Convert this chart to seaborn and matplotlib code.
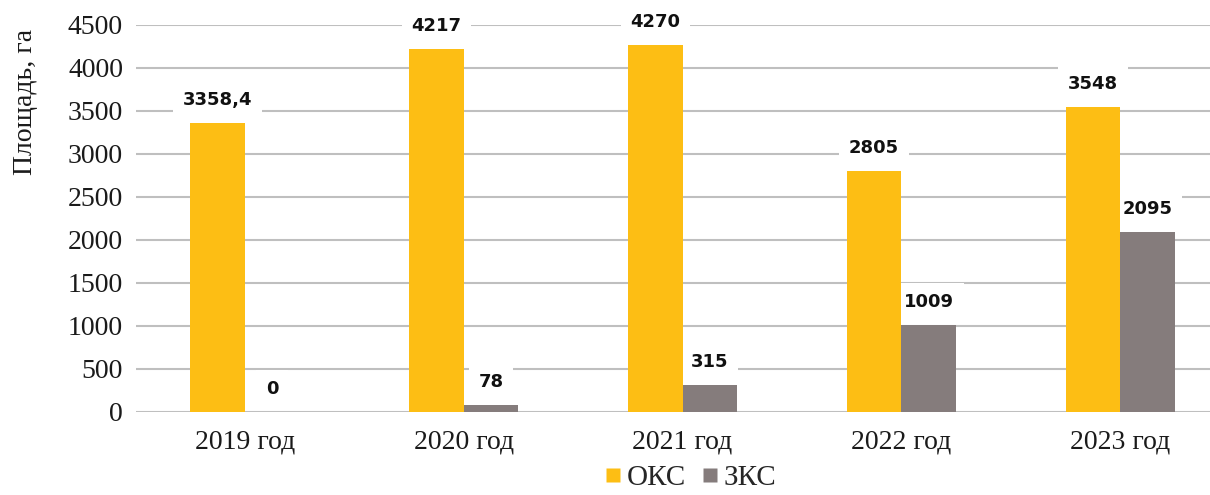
import matplotlib
matplotlib.use("Agg")
import matplotlib.pyplot as plt
from matplotlib.lines import Line2D
import seaborn as sns
import pandas as pd

years = ["2019 год", "2020 год", "2021 год", "2022 год", "2023 год"]
series = ["ОКС", "ЗКС"]
oks = [3358.4, 4217, 4270, 2805, 3548]
zks = [0, 78, 315, 1009, 2095]
yticks = [0, 500, 1000, 1500, 2000, 2500, 3000, 3500, 4000, 4500]
colors = {"ОКС": "#FDBE14", "ЗКС": "#857C7C"}

df = pd.DataFrame({
    "year": years * 2,
    "series": [series[0]] * len(years) + [series[1]] * len(years),
    "value": oks + zks,
})

sns.set_theme(style="white")
serif = ["Liberation Serif", "DejaVu Serif"]

fig = plt.figure(figsize=(12.1, 4.95), dpi=100)
ax = fig.add_axes([0.112, 0.168, 0.888, 0.782])

sns.barplot(data=df, x="year", y="value", hue="series", order=years,
            hue_order=series, palette=colors, width=0.5, saturation=1,
            linewidth=0, ax=ax, legend=False, errorbar=None)
for p in ax.patches:
    p.set_zorder(2)

ax.set_xlim(-0.5, 4.41)
ax.set_ylim(0, 4500)
ax.set_yticks(yticks)
ax.set_yticklabels([str(t) for t in yticks], fontfamily=serif, fontsize=20)
ax.set_xticks(range(len(years)))
ax.set_xticklabels(years, fontfamily=serif, fontsize=20)
ax.tick_params(axis="both", length=0, pad=9, colors="#1a1a1a")
ax.tick_params(axis="x", pad=13)
ax.set_xlabel("")
ax.set_ylabel("Площадь, га", fontfamily=serif, fontsize=20, color="#1a1a1a")
ax.yaxis.set_label_coords(-0.091, 0.80)

ax.grid(axis="y", color="#BFBFBF", linewidth=1.5, zorder=0.5)
ax.set_axisbelow(True)
for s in ax.spines.values():
    s.set_visible(False)


def fmt(v):
    if float(v).is_integer():
        return str(int(v))
    return str(v).replace(".", ",")


for cont, vals in zip(ax.containers, [oks, zks]):
    texts = ax.bar_label(cont, labels=[fmt(v) for v in vals], padding=10,
                         fontsize=13, fontweight="bold", color="#111111")
    for t in texts:
        t.set_zorder(1)
        t.set_bbox(dict(facecolor="white", edgecolor="none", pad=7))

handles = [Line2D([0], [0], marker="s", linestyle="none", markersize=10,
                  markerfacecolor=colors[s], markeredgecolor="none") for s in series]
fig.legend(handles, series, loc="lower center", bbox_to_anchor=(0.57, -0.045),
           ncol=2, frameon=False, prop={"family": serif, "size": 21},
           handletextpad=0.1, columnspacing=0.5, handlelength=0.7)

fig.savefig("out.png", dpi=100)
